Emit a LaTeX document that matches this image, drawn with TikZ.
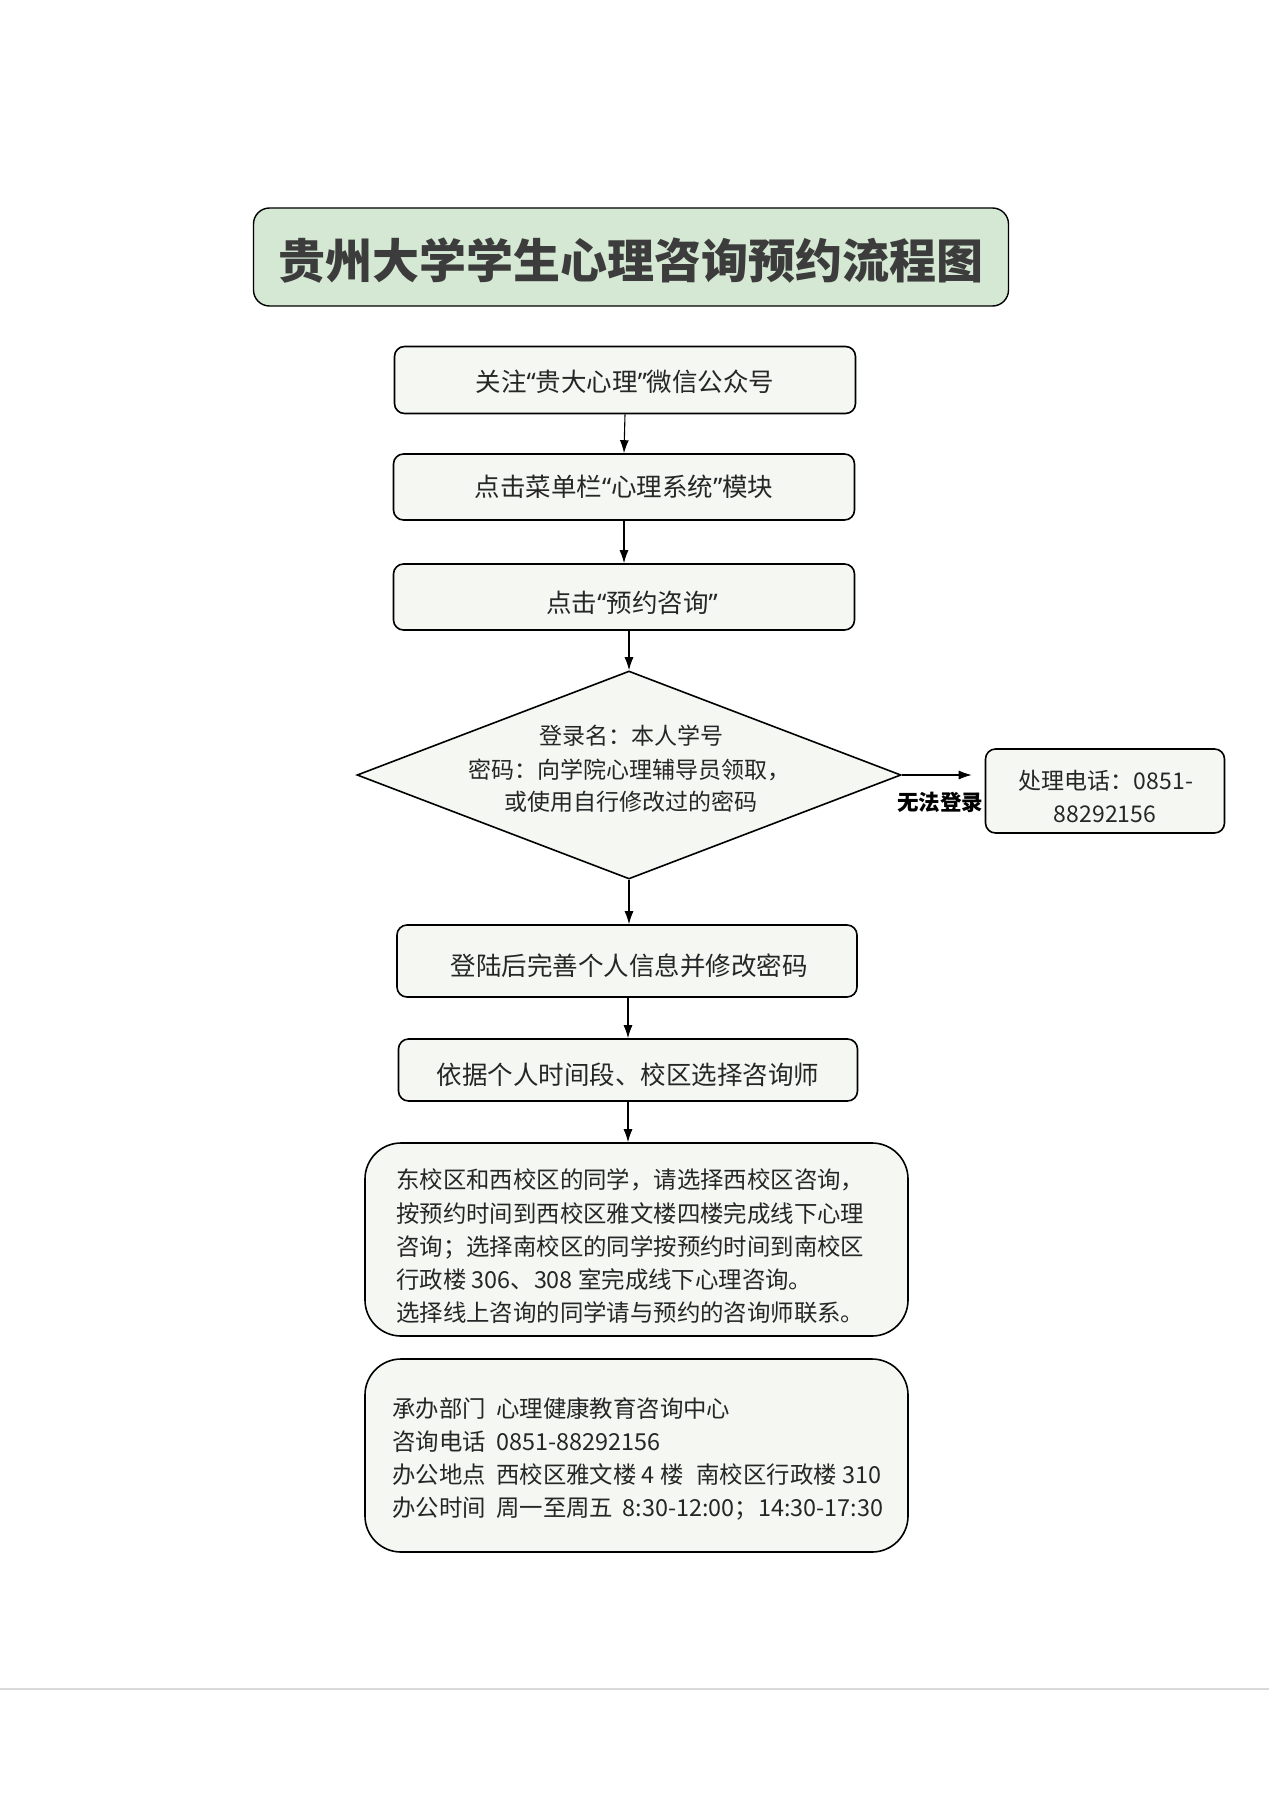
\documentclass[tikz,border=0pt]{standalone}
\usepackage{fontspec}
\setmainfont{Noto Sans CJK SC}
\newfontfamily\latinq{Noto Sans}
\newcommand\myqo{{\latinq “}}
\newcommand\myqc{{\latinq ”}}
\usetikzlibrary{shapes.geometric,arrows.meta}
\definecolor{titlefill}{HTML}{D5E8D4}
\definecolor{boxfill}{HTML}{F5F7F3}
\definecolor{txt}{HTML}{262626}
\definecolor{titletxt}{HTML}{3C3C3C}
\definecolor{rule}{HTML}{D9D9D9}
\begin{document}
\begin{tikzpicture}[x=1pt,y=-1pt,
  plainbox/.style={draw=black, line width=1.6pt, fill=boxfill, rounded corners=10pt, inner sep=0pt},
  bigbox/.style={draw=black, line width=1.6pt, fill=boxfill, rounded corners=36pt, inner sep=0pt},
  steptext/.style={anchor=base, inner sep=0pt, text=txt, font=\fontsize{25.5}{30}\selectfont},
  smalltext/.style={anchor=base, inner sep=0pt, text=txt, font=\fontsize{23}{30}\selectfont},
  linetext/.style={anchor=base west, inner sep=0pt, text=txt, font=\fontsize{23.4}{30}\selectfont},
  arr/.style={-{Latex[length=13pt,width=9pt]}, line width=1.1pt},
]
\useasboundingbox (0,0) rectangle (1269,1795);
\fill[white] (0,0) rectangle (1269,1795);

% title
\node[draw=black, line width=1.4pt, fill=titlefill, rounded corners=16pt,
  minimum width=755pt, minimum height=98pt, inner sep=0pt] (title) at (631,257) {};
\node[anchor=base, inner sep=0pt, text=titletxt, font=\fontsize{47}{56}\selectfont\bfseries]
  (titletext) at (631,279) {贵州大学学生心理咨询预约流程图};

% steps
\node[plainbox, minimum width=461pt, minimum height=67pt] (b1) at (625,380) {};
\node[steptext] (b1t) at (625,391.5) {关注\myqo 贵大心理\myqc 微信公众号};
\node[plainbox, minimum width=461pt, minimum height=66pt] (b2) at (624,487) {};
\node[steptext] (b2t) at (624,496.5) {点击菜单栏\myqo 心理系统\myqc 模块};
\node[plainbox, minimum width=461pt, minimum height=66pt] (b3) at (624,597) {};
\node[steptext] (b3t) at (632,612) {点击\myqo 预约咨询\myqc};

\node[diamond, draw=black, line width=1.6pt, fill=boxfill, minimum width=544pt,
  minimum height=208pt, inner sep=0pt] (d) at (629,775) {};
\node[smalltext] (dt1) at (631,744) {登录名：本人学号};
\node[smalltext] (dt2) at (629,778.3) {密码：向学院心理辅导员领取，};
\node[smalltext] (dt3) at (631,810.3) {或使用自行修改过的密码};

\node[plainbox, minimum width=239pt, minimum height=84pt] (phone) at (1105,791) {};
\node[smalltext] (pt1) at (1106,789.7) {处理电话：0851-};
\node[smalltext] (pt2) at (1105,822.9) {88292156};

\node[plainbox, minimum width=460pt, minimum height=72pt] (b4) at (627,961) {};
\node[steptext] (b4t) at (629,975.9) {登陆后完善个人信息并修改密码};
\node[plainbox, minimum width=459pt, minimum height=62pt] (b5) at (628,1070) {};
\node[steptext] (b5t) at (628,1084.5) {依据个人时间段、校区选择咨询师};

\node[bigbox, minimum width=543pt, minimum height=193pt] (b6) at (636.5,1239.5) {};
\foreach \s [count=\i] in {东校区和西校区的同学，请选择西校区咨询，,
   按预约时间到西校区雅文楼四楼完成线下心理,
   咨询；选择南校区的同学按预约时间到南校区,
   行政楼 306、308 室完成线下心理咨询。,
   选择线上咨询的同学请与预约的咨询师联系。}
  \node[linetext] (t6-\i) at (396,{1188.9+33.2*(\i-1)}) {\s};

\node[bigbox, minimum width=543pt, minimum height=193pt] (b7) at (636.5,1455.5) {};
\foreach \s [count=\i] in {承办部门\hspace{0.45em}心理健康教育咨询中心,
   咨询电话\hspace{0.45em}0851-88292156,
   办公地点\hspace{0.45em}西校区雅文楼 4 楼\hspace{0.55em}南校区行政楼 310,
   办公时间\hspace{0.45em}周一至周五\hspace{0.4em}8:30-12:00；14:30-17:30}
  \node[linetext] (t7-\i) at (392,{1417+33.2*(\i-1)}) {\s};

% connectors
\draw[arr] (b1.south) -- (b2.north);
\draw[arr] (b2.south) -- (b3.north);
\draw[arr] (b3.south -| d.north) -- (d.north);
\draw[arr] (d.south) -- (d.south |- b4.north);
\draw[arr] (b4.south -| b5.north) -- (b5.north);
\draw[arr] (b5.south) -- (b5.south |- b6.north);
\draw[arr, shorten >=13pt] (d.east) -- (d.east -| phone.west);
\node[anchor=base, inner sep=0pt, text=black, font=\fontsize{21.5}{24}\selectfont\bfseries]
  (lbl) at (940,810.9) {无法登录};

% bottom rule
\coordinate (rl) at (0,1689);
\coordinate (rr) at (1269,1689);
\draw[rule, line width=2.5pt] (rl) -- (rr);
\end{tikzpicture}
\end{document}
